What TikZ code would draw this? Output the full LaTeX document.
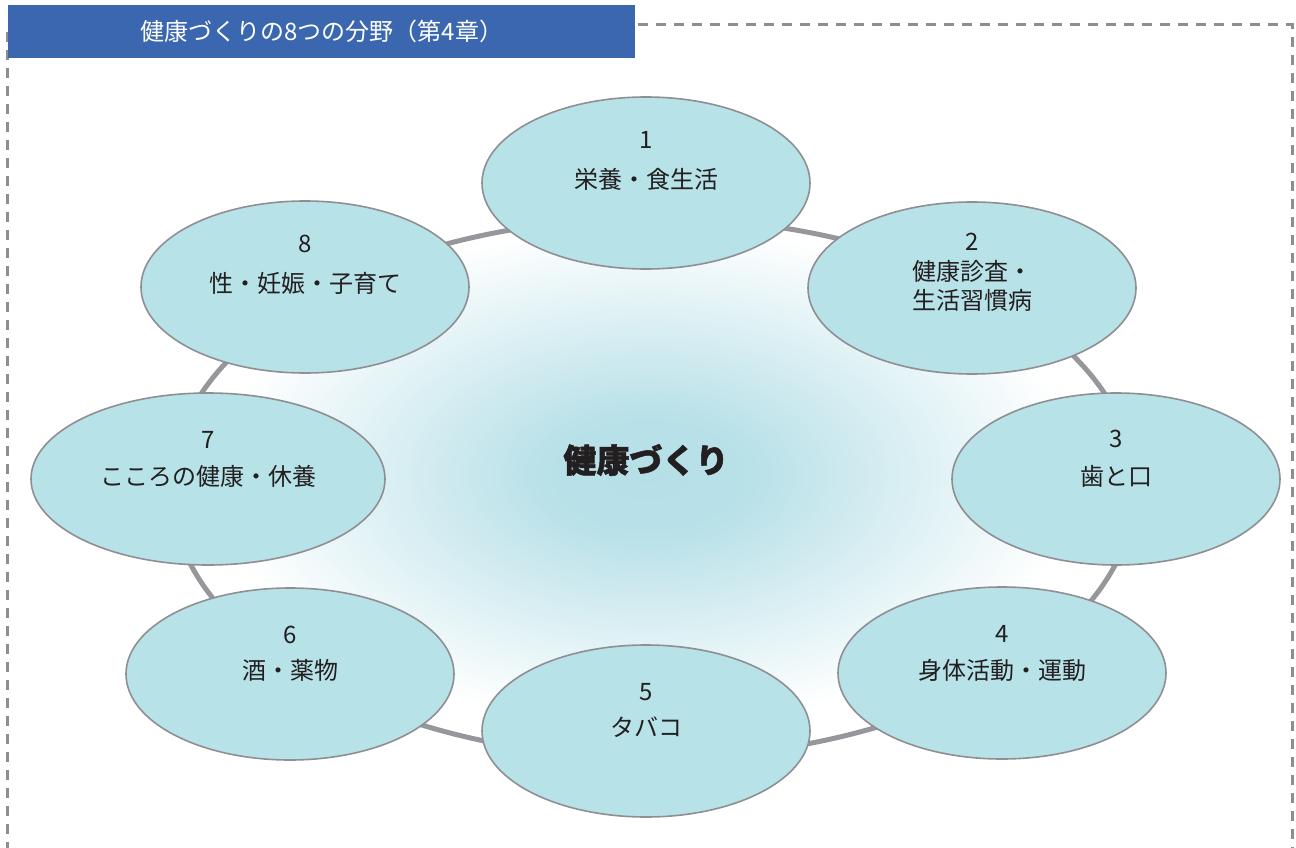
\documentclass[tikz,border=0pt]{standalone}
\usepackage{fontspec}
\newfontfamily\cjk{Noto Sans CJK JP}
\newfontfamily\cjkhub[BoldFeatures={FakeBold=1.6}]{Noto Sans CJK JP}
\usetikzlibrary{shapes.geometric}
\definecolor{bubfill}{HTML}{B7E2E8}
\definecolor{bubline}{HTML}{8F8F93}
\definecolor{ringc}{HTML}{97979B}
\definecolor{titleblue}{HTML}{3A67B0}
\definecolor{dashc}{HTML}{8E8E92}
\definecolor{ink}{HTML}{231F20}
\definecolor{glow}{HTML}{B5DFE7}
\pgfdeclareradialshading{glowshade}{\pgfpoint{0bp}{0bp}}{%
  color(0bp)=(glow); color(6bp)=(glow!95!white); color(14bp)=(glow!55!white);
  color(25bp)=(white); color(50bp)=(white)}
\begin{document}
\begin{tikzpicture}[x=1pt,y=-1pt,
  bub/.style={ellipse, draw=bubline, line width=1.6pt, fill=bubfill,
    minimum width=328pt, minimum height=172pt, inner sep=0pt},
  lab/.style={font=\cjk\fontsize{24}{28}\selectfont, text=ink, anchor=base, inner sep=0pt},
  ring/.style={draw=ringc, line width=5pt},
  frame/.style={draw=dashc, line width=3pt, dash pattern=on 10pt off 8pt},
  titlebar/.style={fill=titleblue, minimum width=627pt, minimum height=53pt, inner sep=0pt,
    anchor=north west, text=white, font=\cjk\fontsize{24}{28}\selectfont},
  hub/.style={font=\cjkhub\bfseries\fontsize{33}{36}\selectfont, text=ink, inner sep=0pt}
  ]
\clip (0,0) rectangle (1296,848);
% frame
\coordinate (fbl) at (7,870);
\coordinate (ftl) at (7,25);
\coordinate (ftr) at (1292,25);
\coordinate (fbr) at (1292,870);
\draw[frame] (fbl) -- (ftl) -- (ftr) -- (fbr);
% title
\node[titlebar] (title) at (8,5) {健康づくりの8つの分野（第4章）};
% glow
\shade[shading=glowshade] (648,475) ellipse [x radius=430, y radius=250];
% ring
\draw[ring] (653,488) ellipse [x radius=482, y radius=270];
% bubbles
\node[bub] (e1) at (646,183) {};
\node[bub] (e2) at (972,288) {};
\node[bub] (e3) at (1116,479) {};
\node[bub] (e4) at (1002,673) {};
\node[bub] (e5) at (646,731) {};
\node[bub] (e6) at (290,674) {};
\node[bub, minimum width=354pt] (e7) at (208,479) {};
\node[bub] (e8) at (305,287) {};
% labels
\node[lab] (n1) at (646,149) {1};
\node[lab] (l1) at (646,189) {栄養・食生活};
\node[lab] (n2) at (972,250) {2};
\node[lab] (l2a) at (972,280) {健康診査・};
\node[lab] (l2b) at (972,309) {生活習慣病};
\node[lab] (n3) at (1116,447) {3};
\node[lab] (l3) at (1116,485) {歯と口};
\node[lab] (n4) at (1002,642) {4};
\node[lab] (l4) at (1002,679) {身体活動・運動};
\node[lab] (n5) at (646,700) {5};
\node[lab] (l5) at (646,736) {タバコ};
\node[lab] (n6) at (290,643) {6};
\node[lab] (l6) at (290,679) {酒・薬物};
\node[lab] (n7) at (208,448) {7};
\node[lab] (l7) at (208,485) {こころの健康・休養};
\node[lab] (n8) at (305,252) {8};
\node[lab] (l8) at (305,292) {性・妊娠・子育て};
% hub
\node[hub] (hub) at (646,460) {健康づくり};
\end{tikzpicture}
\end{document}
